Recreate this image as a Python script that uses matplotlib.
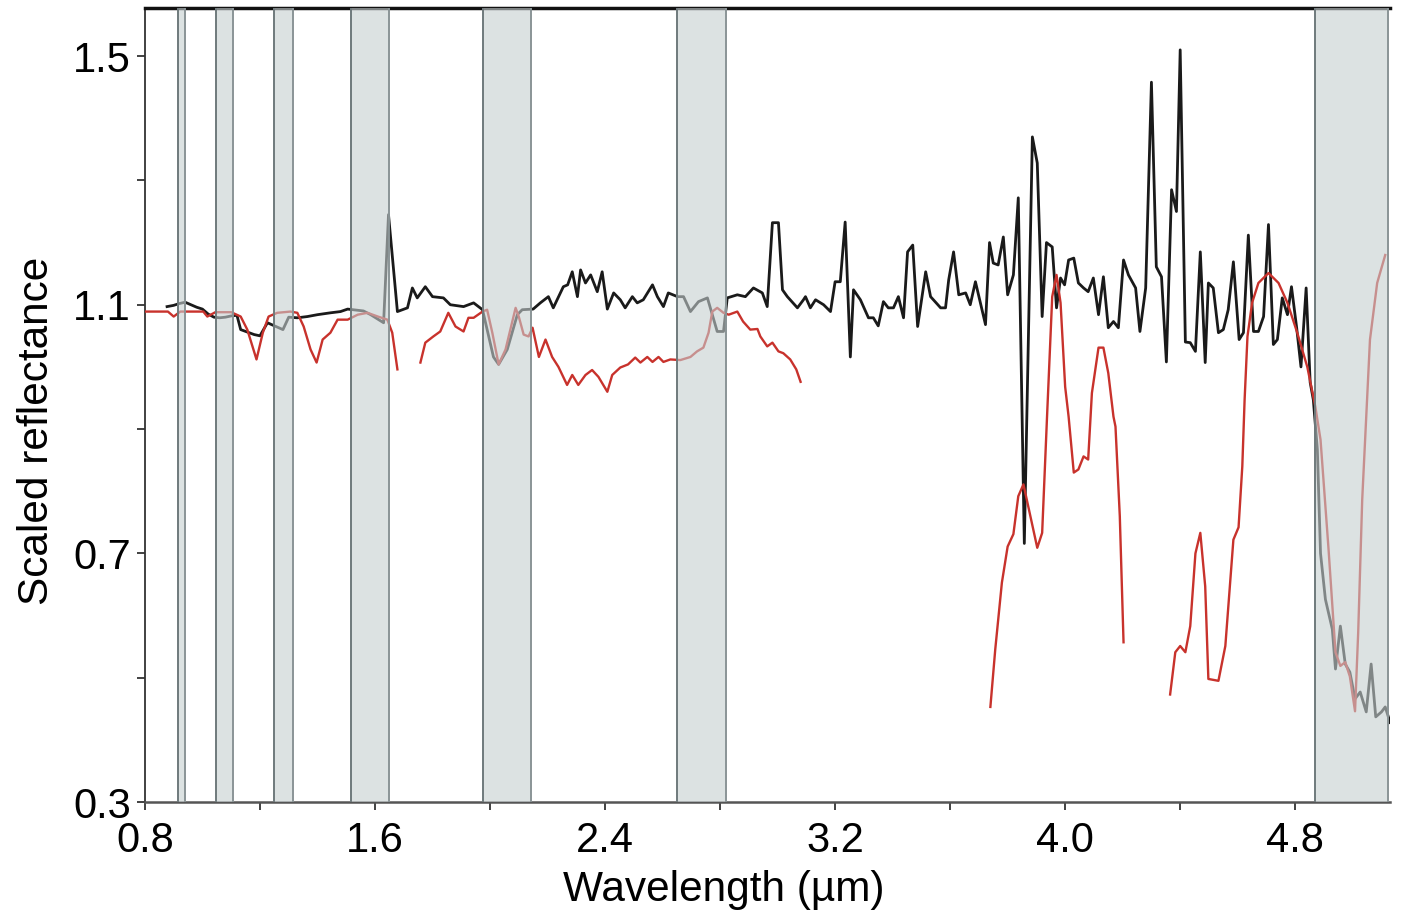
import numpy as np
import matplotlib
matplotlib.use('Agg')
import matplotlib.pyplot as plt

plt.rcParams['font.family'] = ['Liberation Sans', 'DejaVu Sans']

# === BLACK SPECTRUM ===
black_wl = [0.877, 0.90, 0.92, 0.94, 0.96, 0.98, 1.00, 1.02, 1.04, 1.06, 1.08, 1.10, 1.12,
            1.133, 1.18, 1.20, 1.226, 1.28, 1.30, 1.33, 1.365, 1.40, 1.445, 1.48, 1.505,
            1.56, 1.585, 1.63, 1.647, 1.678, 1.713, 1.73, 1.747, 1.775, 1.80, 1.838, 1.862,
            1.908, 1.943, 1.974, 2.012, 2.03, 2.06, 2.095, 2.112, 2.15, 2.175, 2.203, 2.22,
            2.255, 2.27, 2.286, 2.304, 2.315, 2.332, 2.35, 2.373, 2.39, 2.408, 2.43, 2.453,
            2.47, 2.495, 2.512, 2.533, 2.565, 2.582, 2.603, 2.62, 2.652, 2.673, 2.697, 2.725,
            2.756, 2.79, 2.812, 2.825, 2.86, 2.888, 2.916, 2.947, 2.964, 2.982, 3.003, 3.017,
            3.034, 3.069, 3.09, 3.097, 3.114, 3.132, 3.16, 3.184, 3.20, 3.218, 3.235, 3.253,
            3.264, 3.288, 3.316, 3.333, 3.35, 3.368, 3.385, 3.403, 3.42, 3.438, 3.452, 3.47,
            3.487, 3.515, 3.532, 3.567, 3.584, 3.595, 3.612, 3.63, 3.654, 3.67, 3.688, 3.723,
            3.737, 3.75, 3.767, 3.785, 3.80, 3.82, 3.837, 3.858, 3.886, 3.903, 3.92, 3.935,
            3.955, 3.97, 3.984, 3.998, 4.012, 4.03, 4.046, 4.064, 4.08, 4.098, 4.116, 4.133,
            4.15, 4.168, 4.185, 4.203, 4.22, 4.245, 4.26, 4.28, 4.30, 4.317, 4.335, 4.352,
            4.37, 4.387, 4.40, 4.418, 4.435, 4.453, 4.47, 4.487, 4.498, 4.515, 4.533, 4.55,
            4.567, 4.585, 4.605, 4.62, 4.637, 4.655, 4.672, 4.69, 4.707, 4.724, 4.738, 4.755,
            4.773, 4.787, 4.805, 4.82, 4.838, 4.852, 4.863, 4.877, 4.888, 4.905, 4.929, 4.94,
            4.957, 4.974, 4.99, 5.008, 5.026, 5.047, 5.064, 5.08, 5.10, 5.113, 5.13]
black_refl = [1.097, 1.099, 1.102, 1.104, 1.100, 1.096, 1.093, 1.085, 1.080, 1.079, 1.080, 1.082, 1.083,
              1.060, 1.052, 1.050, 1.071, 1.060, 1.080, 1.079, 1.081, 1.084, 1.087, 1.089, 1.093,
              1.090, 1.084, 1.071, 1.245, 1.089, 1.095, 1.127, 1.111, 1.129, 1.113, 1.111, 1.100,
              1.097, 1.103, 1.092, 1.016, 1.004, 1.028, 1.084, 1.092, 1.093, 1.103, 1.113, 1.095,
              1.129, 1.132, 1.153, 1.113, 1.156, 1.135, 1.148, 1.121, 1.153, 1.093, 1.119, 1.108,
              1.095, 1.113, 1.103, 1.108, 1.132, 1.113, 1.097, 1.119, 1.113, 1.113, 1.089, 1.105,
              1.111, 1.057, 1.057, 1.111, 1.116, 1.113, 1.127, 1.119, 1.097, 1.232, 1.232, 1.124,
              1.113, 1.095, 1.108, 1.113, 1.095, 1.108, 1.100, 1.089, 1.137, 1.137, 1.233, 1.016,
              1.124, 1.108, 1.079, 1.079, 1.066, 1.105, 1.095, 1.095, 1.113, 1.079, 1.185, 1.196,
              1.065, 1.153, 1.113, 1.095, 1.095, 1.140, 1.185, 1.116, 1.119, 1.100, 1.137, 1.068,
              1.200, 1.167, 1.164, 1.209, 1.116, 1.148, 1.272, 0.716, 1.370, 1.328, 1.081, 1.200,
              1.193, 1.095, 1.143, 1.132, 1.172, 1.175, 1.135, 1.127, 1.121, 1.143, 1.084, 1.145,
              1.063, 1.073, 1.063, 1.172, 1.148, 1.127, 1.057, 1.127, 1.458, 1.161, 1.145, 1.008,
              1.285, 1.250, 1.510, 1.040, 1.039, 1.025, 1.185, 1.007, 1.135, 1.127, 1.055, 1.060,
              1.092, 1.169, 1.044, 1.055, 1.212, 1.057, 1.057, 1.081, 1.229, 1.036, 1.044, 1.111,
              1.084, 1.129, 1.063, 1.000, 1.127, 0.975, 0.947, 0.867, 0.700, 0.626, 0.578, 0.514,
              0.583, 0.522, 0.509, 0.466, 0.477, 0.445, 0.522, 0.437, 0.445, 0.453, 0.428]

# === RED MODEL (NaN = gap) ===
red_wl = [0.80, 0.88, 0.90, 0.923, 1.003, 1.017, 1.045, 1.10, 1.133, 1.156, 1.188, 1.21, 1.23,
          1.26, 1.306, 1.33, 1.352, 1.376, 1.397, 1.418, 1.445, 1.47, 1.505, 1.54, 1.574,
          1.61, 1.643, 1.66, 1.678, np.nan,
          1.758, 1.775, 1.803, 1.827, 1.855, 1.88, 1.908, 1.925, 1.943, 1.974, 1.99, 2.008,
          2.03, 2.054, 2.089, 2.10, 2.117, 2.134, 2.148, 2.17, 2.193, 2.216, 2.238, 2.268,
          2.286, 2.307, 2.332, 2.355, 2.377, 2.408, 2.425, 2.453, 2.48, 2.505, 2.523, 2.547,
          2.565, 2.586, 2.603, 2.627, 2.662, 2.697, 2.72, 2.742, 2.76, 2.773, 2.79, 2.812,
          2.83, 2.86, 2.88, 2.905, 2.93, 2.94, 2.964, 2.982, 3.003, 3.02, 3.044, 3.065, 3.08, np.nan,
          3.74, 3.757, 3.78, 3.80, 3.82, 3.837, 3.855, 3.903, 3.92, 3.937, 3.955, 3.97, 3.984,
          4.0, 4.012, 4.03, 4.046, 4.064, 4.08, 4.093, 4.116, 4.133, 4.15, 4.168, 4.175, 4.19,
          4.203, np.nan,
          4.365, 4.383, 4.40, 4.418, 4.435, 4.453, 4.47, 4.487, 4.498, 4.533, 4.557, 4.585,
          4.603, 4.616, 4.624, 4.634, 4.65, 4.672, 4.707, 4.742, 4.773, 4.807, 4.842, 4.87,
          4.888, 4.916, 4.94, 4.957, 4.974, 4.99, 5.008, 5.019, 5.033, 5.05, 5.06, 5.085, 5.113]
red_refl = [1.089, 1.089, 1.081, 1.089, 1.089, 1.081, 1.088, 1.088, 1.081, 1.060, 1.012, 1.055, 1.081,
            1.087, 1.089, 1.087, 1.065, 1.028, 1.007, 1.044, 1.055, 1.076, 1.076, 1.084, 1.087,
            1.081, 1.076, 1.055, 0.996, np.nan,
            1.007, 1.039, 1.049, 1.057, 1.087, 1.065, 1.057, 1.079, 1.079, 1.089, 1.092, 1.055,
            1.004, 1.028, 1.095, 1.081, 1.052, 1.049, 1.063, 1.016, 1.044, 1.016, 1.000, 0.971,
            0.987, 0.971, 0.987, 0.995, 0.984, 0.960, 0.987, 0.999, 1.004, 1.015, 1.007, 1.016,
            1.008, 1.016, 1.008, 1.012, 1.011, 1.016, 1.025, 1.031, 1.055, 1.089, 1.095, 1.087,
            1.084, 1.089, 1.073, 1.060, 1.061, 1.049, 1.033, 1.039, 1.025, 1.022, 1.012, 0.996, 0.976, np.nan,
            0.453, 0.546, 0.653, 0.711, 0.731, 0.792, 0.811, 0.709, 0.733, 0.920, 1.113, 1.148, 1.103,
            0.968, 0.920, 0.830, 0.835, 0.856, 0.851, 0.958, 1.031, 1.031, 0.990, 0.920, 0.904, 0.760,
            0.557, np.nan,
            0.473, 0.541, 0.551, 0.541, 0.583, 0.700, 0.733, 0.647, 0.498, 0.495, 0.551, 0.722,
            0.742, 0.840, 0.947, 1.049, 1.103, 1.135, 1.151, 1.135, 1.103, 1.055, 1.000, 0.936,
            0.883, 0.706, 0.541, 0.519, 0.525, 0.502, 0.446, 0.573, 0.787, 0.947, 1.044, 1.135, 1.180]

# === BANDAS GRISES (µm) ===
band_lo = [0.916, 1.048, 1.248, 1.516, 1.974, 2.650, 4.870]
band_hi = [0.938, 1.106, 1.316, 1.648, 2.142, 2.822, 5.124]

fig = plt.figure(figsize=(14.07, 9.14), dpi=100)
ax = fig.add_axes([0.103, 0.1225, 0.885, 0.8685])

ax.plot(black_wl, black_refl, color='#1a1a1a', lw=2.0, zorder=2)
ax.plot(red_wl, red_refl, color='#c8322c', lw=1.7, zorder=3)

for lo, hi in zip(band_lo, band_hi):
    ax.axvspan(lo, hi, facecolor='#c6cfd0', alpha=0.6, edgecolor='none', zorder=4)
    ax.axvline(lo, color='#6f7a7c', lw=1.4, zorder=5)
    ax.axvline(hi, color='#8a9496', lw=1.4, zorder=5)

ax.set_xlim(0.8, 5.13)
ax.set_ylim(0.3, 1.577)
ax.set_xticks([0.8, 1.6, 2.4, 3.2, 4.0, 4.8])
ax.set_xticklabels(['0.8', '1.6', '2.4', '3.2', '4.0', '4.8'])
ax.set_xticks([1.2, 2.0, 2.8, 3.6, 4.4], minor=True)
ax.set_yticks([0.3, 0.7, 1.1, 1.5])
ax.set_yticklabels(['0.3', '0.7', '1.1', '1.5'])
ax.set_yticks([0.5, 0.9, 1.3], minor=True)

ax.tick_params(which='both', direction='out', length=6, width=1.3, colors='#333333',
               labelsize=30, labelcolor='black')
ax.tick_params(axis='x', pad=8)
ax.tick_params(axis='y', pad=4)

ax.spines['top'].set_linewidth(2.5)
ax.spines['top'].set_color('#111111')
ax.spines['left'].set_linewidth(1.3)
ax.spines['left'].set_color('#333333')
ax.spines['bottom'].set_linewidth(1.8)
ax.spines['bottom'].set_color('#555555')
ax.spines['right'].set_visible(False)

ax.set_xlabel('Wavelength (µm)', fontsize=30.5)
ax.set_ylabel('Scaled reflectance', fontsize=30.5)
ax.xaxis.set_label_coords(0.465, -0.085)
ax.yaxis.set_label_coords(-0.071, 0.468)

plt.savefig('out.png', dpi=100)
